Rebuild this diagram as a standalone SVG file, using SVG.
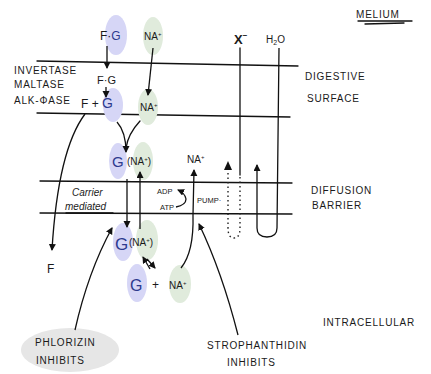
<svg xmlns="http://www.w3.org/2000/svg" width="431" height="374" viewBox="0 0 431 374">
<defs>
<marker id="ah" markerWidth="8" markerHeight="8" refX="6" refY="3.5" orient="auto" markerUnits="userSpaceOnUse">
<path d="M0,0 L7,3.5 L0,7 Z" fill="#111"/>
</marker>
<style>
.ln{fill:none;stroke:#111;stroke-width:1.3;stroke-linecap:round}
.ar{fill:none;stroke:#111;stroke-width:1.3;marker-end:url(#ah)}
.dot{fill:none;stroke:#222;stroke-width:1.4;stroke-dasharray:1.5 3}
.t{font-family:"Liberation Sans",Arial,sans-serif;fill:#1a1a1a}
.lab{font-size:10px;letter-spacing:0.8px}
.b{fill:#d6d6f6}
.g{fill:#e0ebdc}
.gt{fill:#2d3a8e}
</style>
</defs>
<rect width="431" height="374" fill="#fff"/>

<g id="membranes">
<path class="ln" d="M37,61 L298,66"/>
<path class="ln" d="M37,113 L290,117"/>
<path class="ln" d="M40,181 L292,183"/>
<path class="ln" d="M40,213 L292,214"/>
</g>

<g id="labels">
<text class="t" x="356" y="18" font-size="10" letter-spacing="0.8">MELIUM</text>
<path class="ln" d="M358,21 L412,21 M365,24 L404,23" stroke-width="1"/>
<text class="t lab" x="305" y="80">DIGESTIVE</text>
<text class="t lab" x="307" y="102">SURFACE</text>
<text class="t lab" x="311" y="194">DIFFUSION</text>
<text class="t lab" x="312" y="209">BARRIER</text>
<text class="t lab" x="14" y="74" font-size="9">INVERTASE</text>
<text class="t lab" x="14" y="88" font-size="9">MALTASE</text>
<text class="t lab" x="14" y="104" font-size="9">ALK-ΦASE</text>
<text class="t" x="72" y="196" font-size="10" font-style="italic" font-family="Liberation Serif">Carrier</text>
<text class="t" x="65" y="210" font-size="10" font-style="italic" font-family="Liberation Serif">mediated</text>
<path class="ln" d="M66,213 L113,213" stroke-width="0.8"/>
<text class="t" x="157" y="194" font-size="7.5">ADP</text>
<text class="t" x="160" y="210" font-size="7.5">ATP</text>
<text class="t" x="197" y="203" font-size="7.5">PUMP·</text>
<text class="t lab" x="323" y="326">INTRACELLULAR</text>
<text class="t" x="47" y="273" font-size="12">F</text>
</g>

<g id="xminus">
<text class="t" x="234" y="44" font-size="13" font-weight="bold">X<tspan font-size="8" dy="-6">−</tspan></text>
</g>
<g id="h2o">
<text class="t" x="266" y="43" font-size="10">H<tspan font-size="7" dy="2">2</tspan><tspan dy="-2">O</tspan></text>
</g>

<g id="fg-top">
<ellipse class="b" cx="116" cy="35" rx="11" ry="20"/>
<text class="t" x="100" y="40" font-size="12">F·<tspan class="gt">G</tspan></text>
</g>
<g id="na-top">
<ellipse class="g" cx="153" cy="36" rx="10" ry="19"/>
<text class="t" x="144" y="40" font-size="10">NA<tspan font-size="6" dy="-4">+</tspan></text>
</g>
<g id="fg-mid">
<text class="t" x="97" y="84" font-size="11">F·G</text>
</g>
<g id="f-plus-g">
<ellipse class="b" cx="113" cy="105" rx="10" ry="17"/>
<text class="t" x="81" y="108" font-size="12">F + <tspan class="gt" font-size="14">G</tspan></text>
</g>
<g id="na-mid">
<ellipse class="g" cx="148" cy="107" rx="10" ry="18"/>
<text class="t" x="140" y="111" font-size="10">NA<tspan font-size="6" dy="-4">+</tspan></text>
</g>
<g id="gna-upper">
<ellipse class="b" cx="118" cy="161" rx="9" ry="18"/>
<ellipse class="g" cx="143" cy="161" rx="10" ry="19"/>
<text class="t" x="112" y="167" font-size="15"><tspan class="gt">G</tspan></text>
<text class="t" x="127" y="165" font-size="10">(NA<tspan font-size="6" dy="-4">+</tspan><tspan dy="4">)</tspan></text>
</g>
<g id="na-pumped">
<text class="t" x="187" y="163" font-size="10">NA<tspan font-size="6" dy="-4">+</tspan></text>
</g>
<g id="gna-lower">
<ellipse class="b" cx="123" cy="242" rx="10" ry="19"/>
<ellipse class="g" cx="147" cy="240" rx="11" ry="20"/>
<text class="t" x="115" y="250" font-size="17"><tspan class="gt">G</tspan></text>
<text class="t" x="129" y="246" font-size="10">(NA<tspan font-size="6" dy="-4">+</tspan><tspan dy="4">)</tspan></text>
</g>
<g id="g-plus-na">
<ellipse class="b" cx="137" cy="283" rx="10" ry="19"/>
<ellipse class="g" cx="180" cy="284" rx="11" ry="19"/>
<text class="t" x="130" y="291" font-size="16"><tspan class="gt">G</tspan></text>
<text class="t" x="152" y="289" font-size="12">+</text>
<text class="t" x="169" y="289" font-size="10">NA<tspan font-size="6" dy="-4">+</tspan></text>
</g>
<g id="phlorizin">
<ellipse cx="70" cy="350" rx="49" ry="22" fill="#e6e6e6"/>
<text class="t lab" x="35" y="346" font-size="9">PHLORIZIN</text>
<text class="t lab" x="36" y="364" font-size="9">INHIBITS</text>
</g>
<g id="strophanthidin">
<text class="t lab" x="207" y="349">STROPHANTHIDIN</text>
<text class="t lab" x="227" y="366">INHIBITS</text>
</g>

<g id="connectors">
<path class="ar" d="M107,46 L107,68"/>
<path class="ar" d="M153,48 L148,95"/>
<path class="ar" d="M106,87 L106,97"/>
<path class="ar" d="M85,114 Q58,150 52,250"/>
<path class="ar" d="M117,122 Q126,132 126,152"/>
<path class="ln" d="M140,121 Q128,134 126,148"/>
<path class="ar" d="M127,179 L127,227"/>
<path class="ar" d="M140,229 L140,172"/>
<path class="ar" d="M181,268 Q194,252 193,215 L194,170"/>
<path class="ar" d="M176,207 Q186,205 186,199 Q185,193 178,190" stroke-width="1.1"/>
<path class="ar" d="M150,269 L143,257" stroke-width="1.1"/>
<path class="ar" d="M147,259 L155,268" stroke-width="1.1"/>
<path class="ar" d="M75,330 Q88,272 112,228"/>
<path class="ar" d="M238,335 Q222,272 199,224"/>
<path class="ln" d="M240,48 L240,175"/>
<path class="dot" d="M240,177 L240,228 Q240,238 234,238 Q228,238 228,228 L228,168"/>
<path d="M224,170 L228,161 L232,170 Z" fill="#111"/>
<path class="ar" d="M279,48 L277,228 Q277,237 267,237 Q257,237 257,228 L257,165"/>
</g>
</svg>
